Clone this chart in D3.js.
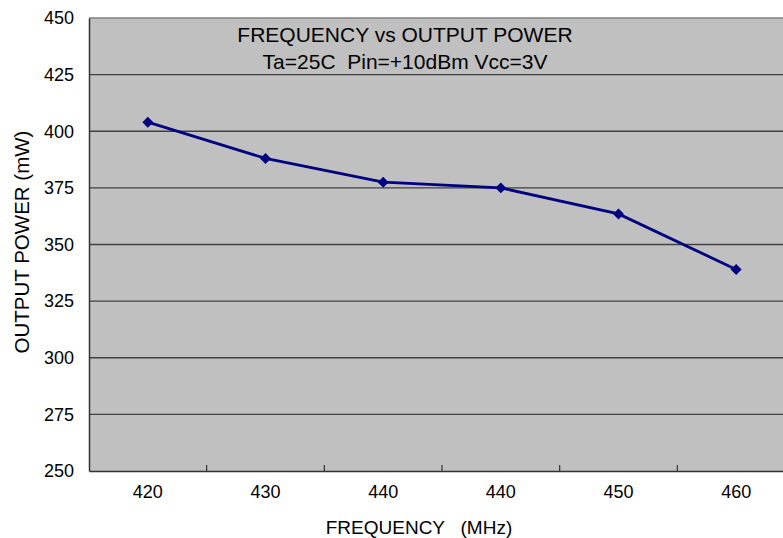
<!DOCTYPE html>
<html><head><meta charset="utf-8">
<script src="https://cdn.jsdelivr.net/npm/d3@7"></script>
<style>body{margin:0;background:#fff;}svg{display:block;font-family:"Liberation Sans",Arial,sans-serif;}</style>
</head><body>
<script>
const categories = ["420","430","440","440","450","460"];
const values = [404, 388, 377.5, 375, 363.5, 339];
const yTicks = [250,275,300,325,350,375,400,425,450];

(function(){
const W = 783, H = 538;
const mLeft = 89, mTop = 18, mBottom = 471, plotRight = 795;
const svg = d3.select("body").append("svg").attr("width", W).attr("height", H);

const x = d3.scaleBand().domain(d3.range(categories.length)).range([mLeft, plotRight]);
const y = d3.scaleLinear().domain([250,450]).range([mBottom, mTop]);

svg.append("rect").attr("x", mLeft).attr("y", mTop).attr("width", plotRight-mLeft).attr("height", mBottom-mTop).attr("fill", "#c0c0c0");

// gridlines
svg.append("g").selectAll("line").data(yTicks.filter(d=>d>250)).join("line")
  .attr("x1", mLeft).attr("x2", plotRight)
  .attr("y1", d=>y(d)).attr("y2", d=>y(d))
  .attr("stroke", d=> d===450 ? "#808080" : "#404040").attr("stroke-width", 1.3);

// y axis
const yAxis = svg.append("g").attr("transform", `translate(${mLeft},0)`)
  .call(d3.axisLeft(y).tickValues(yTicks).tickSize(0).tickPadding(15));
yAxis.select(".domain").attr("stroke", "#333").attr("stroke-width", 1.5);
yAxis.selectAll("text").attr("font-size", 18).attr("fill", "#000").attr("font-family", "Liberation Sans, Arial, sans-serif");

// x axis
const xAxis = svg.append("g").attr("transform", `translate(0,${mBottom})`)
  .call(d3.axisBottom(x).tickFormat(i=>categories[i]).tickSize(0).tickPadding(14));
xAxis.select(".domain").attr("stroke", "#333").attr("stroke-width", 1.5);
xAxis.selectAll("text").attr("font-size", 18).attr("fill", "#000").attr("font-family", "Liberation Sans, Arial, sans-serif");
// inward ticks at category boundaries
svg.append("g").selectAll("line").data(d3.range(1, categories.length)).join("line")
  .attr("x1", i=>x(i)).attr("x2", i=>x(i)).attr("y1", mBottom).attr("y2", mBottom-6)
  .attr("stroke", "#333").attr("stroke-width", 1.2);

// line
const line = d3.line().x((d,i)=>x(i)+x.bandwidth()/2).y(d=>y(d));
svg.append("path").datum(values).attr("d", line).attr("fill","none").attr("stroke","#000080").attr("stroke-width",2.8);
svg.append("g").selectAll("path").data(values).join("path")
  .attr("d", d3.symbol(d3.symbolSquare, 60))
  .attr("transform", (d,i)=>`translate(${x(i)+x.bandwidth()/2},${y(d)}) rotate(45)`)
  .attr("fill", "#000080");

// titles
svg.append("text").attr("x", 405).attr("y", 42).attr("text-anchor","middle").attr("font-size", 21).text("FREQUENCY vs OUTPUT POWER");
svg.append("text").attr("x", 405).attr("y", 69).attr("text-anchor","middle").attr("font-size", 21).attr("xml:space","preserve").text("Ta=25C  Pin=+10dBm Vcc=3V");
svg.append("text").attr("x", 419).attr("y", 534).attr("text-anchor","middle").attr("font-size", 19).attr("xml:space","preserve").text("FREQUENCY   (MHz)");
svg.append("text").attr("transform", "translate(29,242) rotate(-90)").attr("text-anchor","middle").attr("font-size", 20.5).text("OUTPUT POWER (mW)");
})();
</script>
</body></html>
